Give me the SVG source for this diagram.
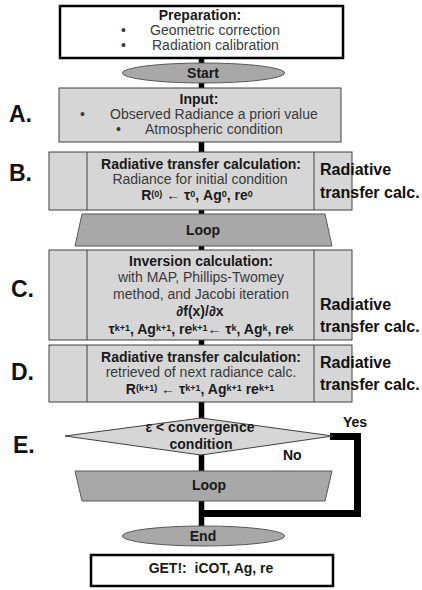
<svg xmlns="http://www.w3.org/2000/svg" width="422" height="590" viewBox="0 0 422 590">
<style>
.t{font-family:"Liberation Sans",Arial,sans-serif;font-size:14px;fill:#3a3a3a}
.b{font-family:"Liberation Sans",Arial,sans-serif;font-size:14px;font-weight:bold;fill:#1a1a1a}
.c{text-anchor:middle}
.lab{font-family:"Liberation Sans",Arial,sans-serif;font-size:23px;font-weight:bold;fill:#111}
.side{font-family:"Liberation Sans",Arial,sans-serif;font-size:16px;font-weight:bold;fill:#111}
.sm{font-size:9px}
.white{fill:#fff;stroke:#000;stroke-width:2.5}
.gray{fill:#d6d6d6;stroke:#404040;stroke-width:1}
.dark{fill:#a8a8a8;stroke:#595959;stroke-width:1}
.line{stroke:#404040;stroke-width:1}
.conn{fill:none;stroke:#000}
</style>
<rect width="422" height="590" fill="#fff"/>
<g id="connectors">
<line class="conn" x1="201.5" y1="58" x2="201.5" y2="527" stroke-width="5.5"/>
<path class="conn" d="M 330 436.5 H 357.5 V 513.5 H 199" stroke-width="7" stroke-linejoin="miter"/>
</g>
<g id="labels">
<text class="lab" x="9" y="122">A.</text>
<text class="lab" x="9" y="181">B.</text>
<text class="lab" x="11" y="297">C.</text>
<text class="lab" x="11" y="380">D.</text>
<text class="lab" x="13" y="453">E.</text>
</g>
<g id="prep">
<rect class="white" x="60" y="6" width="283" height="52"/>
<text class="b c" x="200" y="20">Preparation:</text>
<text class="t" x="121" y="35">•</text>
<text class="t" x="150" y="35">Geometric correction</text>
<text class="t" x="121" y="50">•</text>
<text class="t" x="152" y="50">Radiation calibration</text>
</g>
<g id="start">
<ellipse class="dark" cx="203.5" cy="73" rx="81" ry="10"/>
<text class="b c" x="203" y="78">Start</text>
</g>
<g id="input">
<rect class="gray" x="59" y="88" width="282" height="54"/>
<text class="b c" x="199" y="104">Input:</text>
<text class="t" x="80" y="119">•</text>
<text class="t" x="110" y="119">Observed Radiance a priori value</text>
<text class="t" x="116" y="134">•</text>
<text class="t" x="145" y="134">Atmospheric condition</text>
</g>
<g id="rt-initial">
<rect class="gray" x="49" y="152" width="303" height="58"/>
<line class="line" x1="87" y1="152" x2="87" y2="210"/>
<line class="line" x1="314" y1="152" x2="314" y2="210"/>
<text class="b c" x="201" y="169">Radiative transfer calculation:</text>
<text class="t c" x="200" y="184">Radiance for initial condition</text>
<text class="b c" x="197" y="200">R<tspan class="sm" dy="-3">(0)</tspan><tspan dy="3"> ← τ</tspan><tspan class="sm" dy="-3">0</tspan><tspan dy="3">, Ag</tspan><tspan class="sm" dy="-3">0</tspan><tspan dy="3">, re</tspan><tspan class="sm" dy="-3">0</tspan></text>
<text class="side" x="320" y="175">Radiative</text>
<text class="side" x="320" y="198">transfer calc.</text>
</g>
<g id="loop1">
<polygon class="dark" points="82,214 325,214 332,246 75,246"/>
<text class="b c" x="203" y="235">Loop</text>
</g>
<g id="inversion">
<rect class="gray" x="49" y="250" width="303" height="90"/>
<line class="line" x1="87" y1="250" x2="87" y2="340"/>
<line class="line" x1="314" y1="250" x2="314" y2="340"/>
<text class="b c" x="201" y="266">Inversion calculation:</text>
<text class="t c" x="201" y="282">with MAP, Phillips-Twomey</text>
<text class="t c" x="201" y="299">method, and Jacobi iteration</text>
<text class="b c" x="200" y="316">∂f(x)/∂x</text>
<text class="b c" x="201" y="334">τ<tspan class="sm" dy="-3">k+1</tspan><tspan dy="3">, Ag</tspan><tspan class="sm" dy="-3">k+1</tspan><tspan dy="3">, re</tspan><tspan class="sm" dy="-3">k+1</tspan><tspan dy="3">← τ</tspan><tspan class="sm" dy="-3">k</tspan><tspan dy="3">, Ag</tspan><tspan class="sm" dy="-3">k</tspan><tspan dy="3">, re</tspan><tspan class="sm" dy="-3">k</tspan></text>
<text class="side" x="320" y="310">Radiative</text>
<text class="side" x="320" y="332">transfer calc.</text>
</g>
<g id="rt-next">
<rect class="gray" x="49" y="345" width="303" height="57"/>
<line class="line" x1="87" y1="345" x2="87" y2="402"/>
<line class="line" x1="314" y1="345" x2="314" y2="402"/>
<text class="b c" x="201" y="362">Radiative transfer calculation:</text>
<text class="t c" x="201" y="377">retrieved of next radiance calc.</text>
<text class="b c" x="200" y="394">R<tspan class="sm" dy="-3">(k+1)</tspan><tspan dy="3"> ← τ</tspan><tspan class="sm" dy="-3">k+1</tspan><tspan dy="3">, Ag</tspan><tspan class="sm" dy="-3">k+1</tspan><tspan dy="3"> re</tspan><tspan class="sm" dy="-3">k+1</tspan></text>
<text class="side" x="320" y="368">Radiative</text>
<text class="side" x="320" y="390">transfer calc.</text>
</g>
<g id="decision">
<polygon class="gray" points="201,418 333,436 201,455 65,436"/>
<text class="b c" x="200" y="432">ε &lt; convergence</text>
<text class="b c" x="201" y="449">condition</text>
<text class="side" x="343" y="427" style="font-size:14px">Yes</text>
<text class="side" x="283" y="460" style="font-size:14px">No</text>
</g>
<g id="loop2">
<polygon class="dark" points="75,471 332,471 325,501 82,501"/>
<text class="b c" x="209" y="490">Loop</text>
</g>
<g id="end">
<ellipse class="dark" cx="203.5" cy="536" rx="81" ry="10"/>
<text class="b c" x="203" y="541">End</text>
</g>
<g id="result">
<rect class="white" x="91" y="555" width="242" height="31"/>
<text class="b c" x="211" y="573" xml:space="preserve">GET!:  iCOT, Ag, re</text>
</g>
</svg>
